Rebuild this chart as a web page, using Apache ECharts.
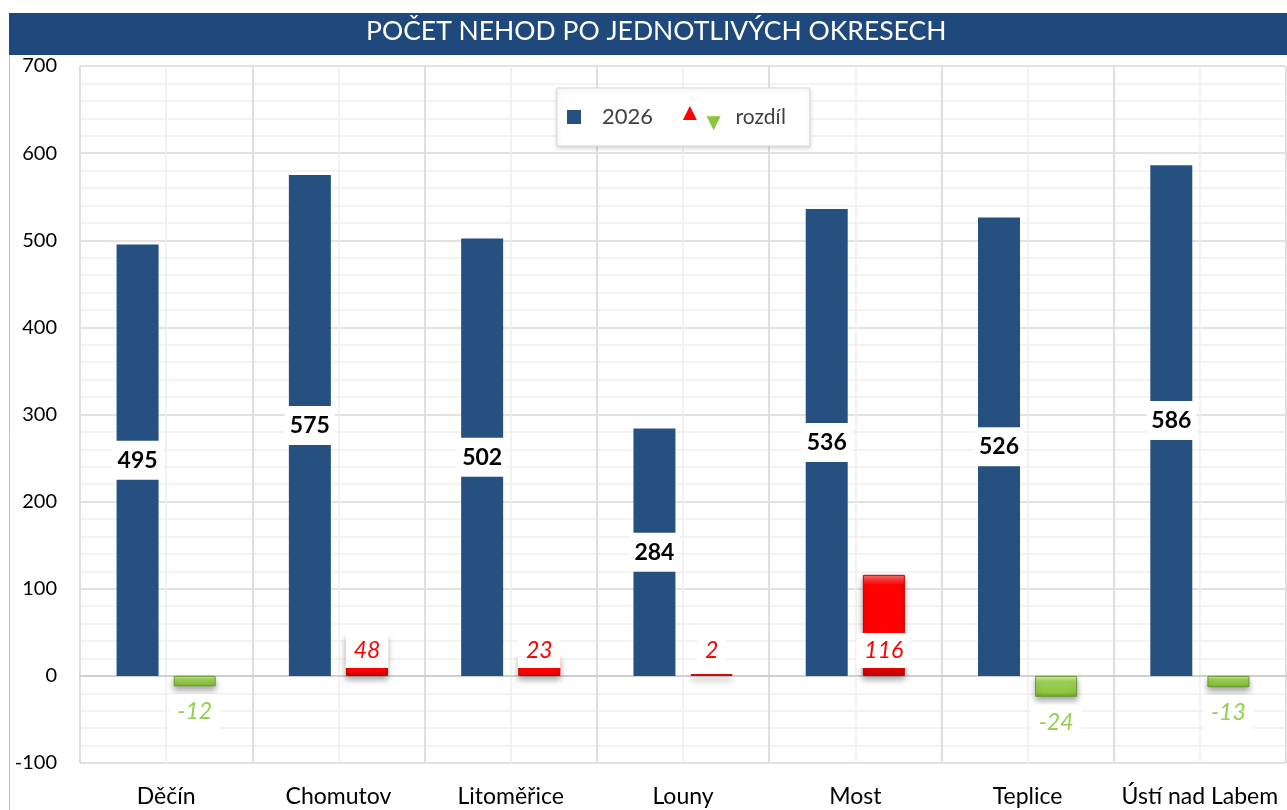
<!DOCTYPE html>
<html>
<head>
<meta charset="utf-8">
<script src="https://cdn.jsdelivr.net/npm/echarts@6/dist/echarts.min.js"></script>
<style>
  html, body { margin: 0; padding: 0; background: #fff; }
  #main { width: 1287px; height: 810px; }
</style>
</head>
<body>
<div id="main"></div>
<script>
// data
var okresy = ['Děčín', 'Chomutov', 'Litoměřice', 'Louny', 'Most', 'Teplice', 'Ústí nad Labem'];
var pocet2026 = [495, 575, 502, 284, 536, 526, 586];
var rozdil = [-12, 48, 23, 2, 116, -24, -13];

var chart = echarts.init(document.getElementById('main'));
var font = 'Lato, "Open Sans", sans-serif';

// cervena / zelena s efektem zkoseni
var redFill = new echarts.graphic.LinearGradient(0, 0, 0, 1, [
  { offset: 0, color: '#ff7070' },
  { offset: 0.1, color: '#ff0000' },
  { offset: 0.88, color: '#ff0000' },
  { offset: 1, color: '#c00000' }
]);
var greenFill = new echarts.graphic.LinearGradient(0, 0, 0, 1, [
  { offset: 0, color: '#d2f0a0' },
  { offset: 0.3, color: '#9ed45a' },
  { offset: 0.8, color: '#8cc63f' },
  { offset: 1, color: '#6d9e30' }
]);

var rozdilData = rozdil.map(function (v) {
  var up = v >= 0;
  return {
    value: v,
    itemStyle: {
      color: up ? redFill : greenFill,
      borderColor: up ? '#c00000' : '#6a9a30',
      borderWidth: 1
    },
    label: up
      ? { position: 'insideBottom', distance: 8, color: '#ff0000' }
      : { position: 'bottom', distance: 8, color: '#92d050' }
  };
});

var option = {
  backgroundColor: '#ffffff',
  textStyle: { fontFamily: font },
  graphic: [
    { type: 'rect', left: 9, top: 13, shape: { width: 1278, height: 42 }, style: { fill: '#1f497d' }, z: 0 },
    { type: 'line', shape: { x1: 9.5, y1: 55, x2: 9.5, y2: 810 }, style: { stroke: '#bfbfbf', lineWidth: 1 } },
    {
      type: 'text', left: 366, top: 18,
      style: { text: 'POČET NEHOD PO JEDNOTLIVÝCH OKRESECH', fill: '#ffffff', font: '26.5px ' + font }
    }
  ],
  legend: {
    left: 557, top: 88,
    padding: [12, 24, 12, 10],
    backgroundColor: '#ffffff',
    borderColor: '#d9d9d9',
    borderWidth: 1,
    shadowColor: 'rgba(0,0,0,0.15)',
    shadowBlur: 4,
    shadowOffsetY: 2,
    itemWidth: 14, itemHeight: 14, itemGap: 6,
    textStyle: {
      fontSize: 22, color: '#404040', fontFamily: font,
      rich: {
        up: { color: '#ff0000', fontSize: 24, padding: [0, 0, 10, 0] },
        dn: { color: '#8cc63f', fontSize: 24, padding: [10, 0, 0, 0] },
        t: { fontSize: 21, color: '#404040', padding: [0, 0, 0, 10] }
      }
    },
    data: [
      { name: '2026', icon: 'rect', textStyle: { padding: [0, 0, 0, 16] } },
      { name: 'rozdíl', icon: 'none' }
    ],
    formatter: function (name) {
      return name === 'rozdíl' ? '{up|▲}{dn|▼}{t|rozdíl}' : name;
    }
  },
  grid: { left: 80, right: 1, top: 66, bottom: 47 },
  xAxis: [
    {
      type: 'category',
      data: okresy,
      axisTick: { show: false },
      axisLine: { show: true, onZero: true, lineStyle: { color: '#d0d0d0', width: 2 } },
      axisLabel: { interval: 0, fontSize: 23, color: '#000', margin: 22, fontFamily: font },
      splitLine: { show: true, interval: 0, lineStyle: { color: '#d9d9d9', width: 1.5 } },
      z: 3
    },
    {
      type: 'value', min: 0, max: 14, interval: 1,
      show: true, position: 'bottom',
      axisLine: { show: false }, axisTick: { show: false }, axisLabel: { show: false },
      splitLine: { show: true, lineStyle: { color: '#eeeeee', width: 1.5 } }
    }
  ],
  yAxis: {
    type: 'value',
    min: -100, max: 700, interval: 100,
    axisLine: { show: false },
    axisTick: { show: false },
    axisLabel: { fontSize: 20, color: '#000', margin: 23, fontFamily: font },
    splitLine: { lineStyle: { color: '#d9d9d9', width: 1.5 } },
    minorTick: { show: false, splitNumber: 5 },
    minorSplitLine: { show: true, lineStyle: { color: '#efefef', width: 1.5 } }
  },
  series: [
    {
      name: '2026',
      type: 'bar',
      data: pocet2026,
      barWidth: 42,
      barGap: '36%',
      itemStyle: { color: '#26507f' },
      label: {
        show: true, position: 'inside',
        backgroundColor: '#ffffff',
        borderWidth: 0,
        padding: [8, 5],
        fontSize: 23, fontWeight: 'bold', color: '#000', fontFamily: font
      },
      z: 4
    },
    {
      name: 'rozdíl',
      type: 'bar',
      data: rozdilData,
      barWidth: 42,
      itemStyle: {
        color: '#ff0000',
        shadowColor: 'rgba(0,0,0,0.35)',
        shadowBlur: 6,
        shadowOffsetY: 4
      },
      label: {
        show: true,
        backgroundColor: '#ffffff',
        borderWidth: 0,
        borderColor: 'transparent',
        padding: [6, 8],
        fontSize: 23, fontStyle: 'italic', fontFamily: font
      },
      z: 4
    }
  ]
};

chart.setOption(option);
</script>
</body>
</html>
